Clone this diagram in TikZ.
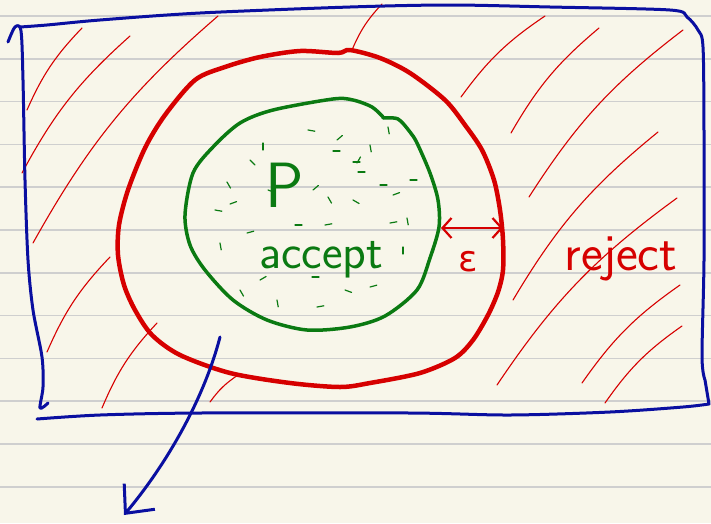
\documentclass[tikz,border=0pt]{standalone}
\usepackage{fontspec}
\usepackage{tikz}
\usetikzlibrary{arrows.meta}
\newfontfamily\greekhand{DejaVu Sans}
\definecolor{paper}{HTML}{F8F6EA}
\definecolor{ruleline}{HTML}{CFCFCF}
\definecolor{inkblue}{HTML}{0A0FA0}
\definecolor{inkred}{HTML}{D60000}
\definecolor{inkgreen}{HTML}{0B7A12}

\begin{document}
\begin{tikzpicture}[x=1pt,y=-1pt,
		pen/.style={line cap=round, line join=round},
		hatch/.style={pen, inkred, line width=1.1pt},
		speck/.style={pen, inkgreen, line width=1.2pt},
		hand/.style={inner sep=0pt, font=\sffamily\fontsize{#1}{#1}\selectfont}]
	\fill[paper] (0,0) rectangle (711,523);
	\useasboundingbox (0,0) rectangle (711,523);
	\foreach \i in {0,...,11}
		\draw[ruleline, line width=1.6pt] (0,16+42.8*\i) -- (711,16+42.8*\i);

	% hatching of the reject area
	\foreach \xa/\ya/\xb/\yb in {27/110/82/28, 22/173/130/36, 33/243/218/16, 352/50/382/4,
			461/97/545/16, 511/133/599/28, 529/197/683/30, 513/300/658/132, 497/385/677/198,
			582/383/680/285, 605/403/682/326, 47/352/110/257, 102/408/157/323, 210/402/238/375}
		\draw[hatch] (\xa,\ya) to[bend left=10] (\xb,\yb);

	% outer box
	\draw[inkblue, line width=3pt, pen] plot[smooth] coordinates {
			(8,42) (15,27) (21,31) (23,80) (25,180) (28,260) (33,310) (42,357) (43,387) (40,408) (48,403)
		};
	\draw[inkblue, line width=3pt, pen] plot[smooth] coordinates {
			(20,27) (47,25) (100,20) (200,13) (350,7) (450,5) (550,7) (670,10) (687,17) (698,30) (703,47)
			(704,133) (704,260) (702,357) (705,380)
		} -- (709,404) -- plot[smooth] coordinates {
			(709,404) (683,407) (610,412) (510,415) (410,413) (200,413) (100,415) (37,419)
		};

	% epsilon ring
	\draw[inkred, line width=4.5pt, pen] plot[smooth cycle] coordinates {
			(350,50) (380,58) (410,73) (445,100) (465,125) (482,150) (494,180) (500,210) (503,240)
			(503,270) (498,292) (488,315) (473,340) (455,358) (420,373) (370,383) (340,387) (290,383)
			(230,373) (180,355) (152,335) (135,310) (124,285) (118,255) (119,225) (128,190) (145,148)
			(165,115) (195,80) (225,67) (260,57) (300,51) (338,53)
		};

	% accept region
	\draw[inkgreen, line width=3.5pt, pen] plot[smooth] coordinates {
			(383,118) (398,119) (410,132) (417,143) (430,173) (438,200) (439,227) (430,258) (417,290)
			(385,316) (350,327) (307,330) (267,320) (233,300) (205,270) (190,245) (185,215) (193,173)
			(213,147) (240,123) (273,110) (333,99) (353,100) (372,107) (383,117)
		};
	\foreach \x/\y/\a in {308/130/10, 337/140/-40, 333/151/0, 370/145/80, 263/143/90, 353/162/0,
			358/172/0, 380/185/0, 393/195/-20, 353/200/30, 328/197/60, 313/190/-40, 268/190/20,
			227/182/60, 230/204/-20, 295/225/0, 325/225/-10, 247/233/-15, 220/243/80, 390/223/-10,
			407/218/80, 403/247/90, 370/287/-15, 277/300/80, 240/290/60, 317/307/-10, 312/277/0,
			388/127/80, 357/163/-60, 250/160/45, 410/180/0, 215/210/10, 260/280/-30, 345/290/20}
		\draw[speck] (\x,\y) -- ++(\a:7);

	\node[hand=64, inkgreen] (pset) at (285,185) {P};
	\node[hand=49, inkgreen, anchor=base] (acc) at (321,268) {accept};
	\node[hand=52, inkred, anchor=base] (rej) at (621,270) {reject};
	\node[inner sep=0pt, inkred, font=\greekhand\fontsize{36}{36}\selectfont] (eps) at (468,262) {ε};

	\coordinate (gapin) at (441,228);
	\coordinate (gapout) at (503,228);
	\draw[inkred, line width=2.2pt, pen, {Straight Barb[length=9pt,width=20pt]}-{Straight Barb[length=9pt,width=20pt]}] (gapin) -- (gapout);

	\coordinate (ringpt) at (220,337);
	\coordinate (away) at (124,515);
	\draw[inkblue, line width=3pt, pen, -{Straight Barb[length=22pt,width=40pt]}] (ringpt) .. controls (205,395) and (170,460) .. (away);
\end{tikzpicture}
\end{document}
